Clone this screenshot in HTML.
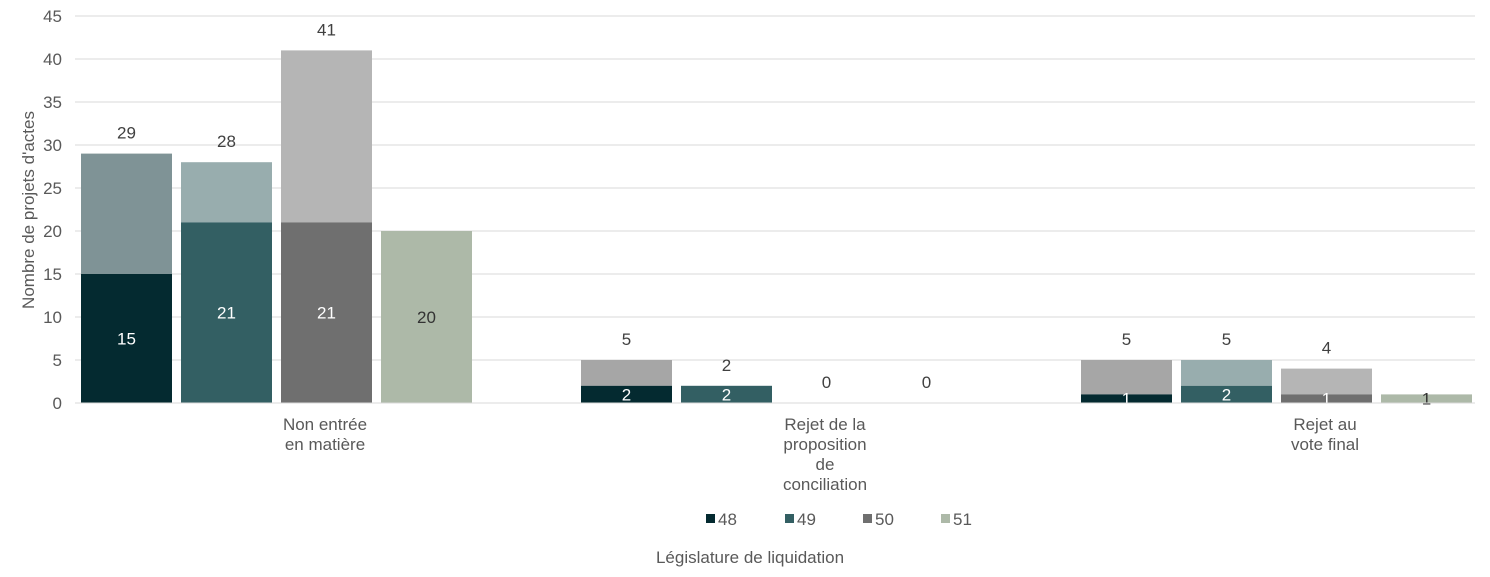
<!DOCTYPE html>
<html><head><meta charset="utf-8"><style>
body{margin:0;background:#fff;}
svg text{font-family:"Liberation Sans",Arial,sans-serif;}
</style></head><body>
<svg id="chart" width="1490" height="572" xmlns="http://www.w3.org/2000/svg"></svg>
<script>
const categories = [["Non entrée","en matière"],["Rejet de la","proposition","de","conciliation"],["Rejet au","vote final"]];
const series = ["48","49","50","51"];
const bottomValues = [[15,21,21,20],[2,2,0,0],[1,2,1,1]];
const totalValues = [[29,28,41,20],[5,2,0,0],[5,5,4,1]];
const yTicks = [0,5,10,15,20,25,30,35,40,45];
const bottomColors = ["#042a30","#335f63","#6f6f6f","#adb9a8"];
const topColors = [["#7f9396","#98adae","#b5b5b5","#adb9a8"],["#a6a6a6","#98adae","#b5b5b5","#adb9a8"],["#a6a6a6","#98adae","#b5b5b5","#adb9a8"]];
const innerTextColors = ["#fff","#fff","#fff","#333"];

const svg = document.getElementById('chart');
const NS = "http://www.w3.org/2000/svg";
const x0 = 75, x1 = 1475, yBase = 403, yTop = 16, yMax = 45;
const FS = 17;
const y = v => yBase - v * (yBase - yTop) / yMax;
const catW = 500;
const barX = (c, i) => x0 + c * catW + 6 + i * 100;
const barW = 91;
function el(tag, attrs, txt){
  const e = document.createElementNS(NS, tag);
  for (const k in attrs) e.setAttribute(k, attrs[k]);
  if (txt !== undefined) e.textContent = txt;
  svg.appendChild(e);
  return e;
}
yTicks.forEach(t => {
  const g = el('line',{x1:x0,x2:x1,y1:y(t),y2:y(t),stroke:'#d9d9d9','stroke-width':1});
  
  
  const l = el('text',{x:62,y:y(t)+6,'text-anchor':'end','font-size':FS,fill:'#595959'},t);
  
  
});
const yt = el('text',{x:0,y:0,transform:'translate(34,210) rotate(-90)','text-anchor':'middle','font-size':FS,fill:'#595959'},"Nombre de projets d'actes");



categories.forEach((cat, c) => {
  series.forEach((s, i) => {
    const b = bottomValues[c][i], t = totalValues[c][i];
    const bx = barX(c, i);
    if (t > b) {
      const r = el('rect',{x:bx,y:y(t),width:barW,height:y(b)-y(t),fill:topColors[c][i]});
      
      
    }
    if (b > 0) {
      const r = el('rect',{x:bx,y:y(b),width:barW,height:yBase-y(b),fill:bottomColors[i]});
      
      
      const lt = el('text',{x:bx+barW/2,y:(y(b)+yBase)/2+6,'text-anchor':'middle','font-size':FS,fill:innerTextColors[i]},b);
      
      
    }
    if (!(i === 3 && b > 0)) {
      const lt = el('text',{x:bx+barW/2,y:y(t)-15,'text-anchor':'middle','font-size':FS,fill:'#404040'},t);
      
      
    }
  });
  const cx = x0 + c * catW + catW / 2;
  cat.forEach((line, k) => {
    const lt = el('text',{x:cx,y:430+k*20,'text-anchor':'middle','font-size':FS,fill:'#595959'},line);
    
    
  });
});
const ax = el('line',{x1:x0,x2:x1,y1:yBase,y2:yBase,stroke:'#d9d9d9','stroke-width':1});



const legX = [706,785,863,941];
series.forEach((s, i) => {
  const r = el('rect',{x:legX[i],y:514,width:9,height:9,fill:bottomColors[i]});
  
  
  const t = el('text',{x:legX[i]+12,y:525,'font-size':FS,fill:'#595959'},s);
  
  
});
const xt = el('text',{x:750,y:563,'text-anchor':'middle','font-size':FS,fill:'#595959'},"Législature de liquidation");


</script>
</body></html>
